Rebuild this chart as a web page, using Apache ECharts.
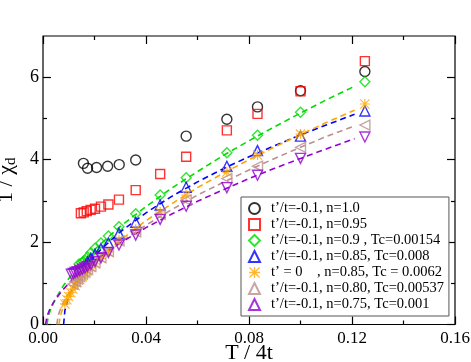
<!DOCTYPE html>
<html><head><meta charset="utf-8">
<script src="https://cdn.jsdelivr.net/npm/echarts@6/dist/echarts.min.js"></script>
<style>html,body{margin:0;padding:0;background:#fff}#c{width:471px;height:362px}</style>
</head><body><div id="c"></div>
<script>
// ---- data ----
const xTickLabels = ['0.00','0.04','0.08','0.12','0.16'];
const xMajorTicks = [0, 0.04, 0.08, 0.12, 0.16];
const xMinorTicks = [0.02, 0.06, 0.10, 0.14];
const yTickLabels = ['0','2','4','6'];
const yMajorTicks = [0, 2, 4, 6];
const yMinorTicks = [1, 3, 5];
const legendNames = [
  "t\u2019/t=-0.1, n=1.0",
  "t\u2019/t=-0.1, n=0.95",
  "t\u2019/t=-0.1, n=0.9 , Tc=0.00154",
  "t\u2019/t=-0.1, n=0.85, Tc=0.008",
  "t\u2019 = 0    , n=0.85, Tc = 0.0062",
  "t\u2019/t=-0.1, n=0.80, Tc=0.00537",
  "t\u2019/t=-0.1, n=0.75, Tc=0.001"
];
const n100_T = [0.0157,0.0173,0.0208,0.0251,0.0296,0.0360,0.0556,0.0714,0.0833,0.1000,0.1250];
const n100_Y = [3.91,3.79,3.81,3.84,3.88,3.99,4.57,4.98,5.28,5.67,6.14];
const n095_T = [0.0147,0.0158,0.0170,0.0185,0.0202,0.0225,0.0254,0.0295,0.0360,0.0455,0.0556,0.0714,0.0833,0.1000,0.1250];
const n095_Y = [2.70,2.72,2.75,2.78,2.81,2.86,2.91,3.03,3.26,3.65,4.07,4.71,5.11,5.66,6.39];
const n090_T = [0.0140,0.0150,0.0157,0.0163,0.0173,0.0186,0.0202,0.0225,0.0254,0.0295,0.0360,0.0455,0.0556,0.0714,0.0833,0.1000,0.1250];
const n090_Y = [1.47,1.50,1.53,1.56,1.64,1.74,1.85,1.98,2.15,2.37,2.69,3.14,3.56,4.17,4.59,5.15,5.89];
const n085_T = [0.0173,0.0186,0.0202,0.0225,0.0254,0.0295,0.0360,0.0455,0.0556,0.0714,0.0833,0.1000,0.1250];
const n085_Y = [1.52,1.60,1.70,1.84,1.98,2.21,2.48,2.90,3.33,3.84,4.22,4.57,5.18];
const t0_T = [0.0085,0.0093,0.0100,0.0108,0.0116,0.0125,0.0134,0.0143,0.0153,0.0163,0.0173,0.0186,0.0202,0.0225,0.0254,0.0295,0.0360,0.0455,0.0556,0.0714,0.0833,0.1000,0.1250];
const t0_Y = [0.50,0.60,0.68,0.77,0.86,0.94,1.02,1.09,1.16,1.23,1.30,1.38,1.47,1.60,1.76,2.05,2.31,2.73,3.14,3.70,4.11,4.62,5.35];
const n080_T = [0.0116,0.0125,0.0134,0.0143,0.0153,0.0163,0.0173,0.0186,0.0202,0.0225,0.0254,0.0295,0.0360,0.0455,0.0556,0.0714,0.0833,0.1000,0.1250];
const n080_Y = [0.98,1.04,1.10,1.16,1.22,1.28,1.34,1.41,1.50,1.62,1.77,2.03,2.25,2.67,3.02,3.54,3.84,4.30,4.84];
const n075_T = [0.0110,0.0118,0.0125,0.0133,0.0143,0.0153,0.0163,0.0173,0.0186,0.0202,0.0225,0.0254,0.0295,0.0360,0.0455,0.0556,0.0714,0.0833,0.1000,0.1250];
const n075_Y = [1.22,1.24,1.26,1.28,1.31,1.34,1.37,1.41,1.46,1.53,1.62,1.75,1.93,2.17,2.55,2.87,3.32,3.62,4.03,4.55];
// dashed fit curves
const fit090_T = [0.00154,0.002,0.003,0.005,0.008,0.012,0.016,0.02,0.03,0.04,0.05,0.06,0.07,0.08,0.09,0.1,0.11,0.121];
const fit090_Y = [0,0.18,0.38,0.64,0.95,1.28,1.56,1.82,2.38,2.86,3.31,3.71,4.10,4.46,4.80,5.13,5.45,5.78];
const fit085_T = [0.008,0.0085,0.01,0.013,0.017,0.022,0.03,0.04,0.05,0.06,0.07,0.08,0.09,0.1,0.11,0.121];
const fit085_Y = [0,0.34,0.68,1.07,1.44,1.79,2.25,2.71,3.11,3.46,3.78,4.07,4.34,4.60,4.84,5.10];
const fitT0_T = [0.0062,0.0067,0.0075,0.009,0.011,0.014,0.018,0.023,0.03,0.04,0.05,0.06,0.07,0.08,0.09,0.1,0.11,0.121];
const fitT0_Y = [0,0.21,0.36,0.57,0.79,1.05,1.35,1.66,2.04,2.52,2.93,3.32,3.67,4.00,4.31,4.61,4.90,5.20];
const fit080_T = [0.00537,0.0059,0.007,0.009,0.011,0.014,0.018,0.023,0.03,0.04,0.05,0.06,0.07,0.08,0.09,0.1,0.11,0.121];
const fit080_Y = [0,0.22,0.42,0.66,0.85,1.09,1.35,1.64,1.99,2.41,2.79,3.14,3.45,3.75,4.03,4.30,4.56,4.82];
const fit075_T = [0.001,0.0015,0.0025,0.004,0.007,0.01,0.014,0.018,0.023,0.03,0.04,0.05,0.06,0.07,0.08,0.09,0.1,0.11,0.121];
const fit075_Y = [0,0.19,0.35,0.53,0.79,1.00,1.24,1.45,1.68,1.98,2.35,2.68,2.99,3.27,3.54,3.79,4.03,4.26,4.51];

// ---- chart ----
const zip = (a, b) => a.map((v, i) => [v, b[i]]);
const SERIF = '"Liberation Serif","DejaVu Serif",serif';
const C = {black:'#000000', red:'#ff0000', green:'#00dd00', blue:'#0000ff', orange:'#ffa500', brown:'#bc8f8f', purple:'#9400d3'};
const STAR = 'path://M0,4.4L10,4.4L10,5.6L0,5.6Z M4.4,0L5.6,0L5.6,10L4.4,10Z M0.8,0L10,9.2L9.2,10L0,0.8Z M9.2,0L10,0.8L0.8,10L0,9.2Z';

function scat(name, T, Y, symbol, color, size, rot, filled) {
  return {
    type: 'scatter', name, data: zip(T, Y), symbol, symbolSize: size, symbolRotate: rot || 0,
    symbolKeepAspect: true, z: 3,
    itemStyle: filled ? {color: color, borderWidth: 0} : {color: 'rgba(255,255,255,0)', borderColor: color, borderWidth: 1.4},
    emphasis: {disabled: true}
  };
}
function fit(name, T, Y, color) {
  return {
    type: 'line', name, data: zip(T, Y), showSymbol: false, symbol: 'none', z: 2,
    lineStyle: {color, width: 1.6, type: [6, 4]}, emphasis: {disabled: true}, silent: true
  };
}

function axis(min, max, interval, pos, ticks, len) {
  return {
    type: 'value', min, max, interval, position: pos, offset: 0,
    axisLine: {show: false, onZero: false},
    axisTick: {show: true, inside: true, length: len, customValues: ticks, lineStyle: {color: '#000', width: 1.2}},
    splitLine: {show: false}, axisLabel: {show: false}
  };
}

const xa0 = axis(0, 0.16, 0.04, 'bottom', xMajorTicks, 8);
xa0.axisLabel = {show: true, margin: 6, color: '#000', fontFamily: SERIF, fontSize: 17,
  customValues: xMajorTicks, formatter: v => xTickLabels[xMajorTicks.findIndex(t => Math.abs(t - v) < 1e-9)] || ''};
xa0.name = 'T / 4t'; xa0.nameLocation = 'middle'; xa0.nameGap = 18; xa0.nameMoveOverlap = false;
xa0.nameTextStyle = {fontFamily: SERIF, fontSize: 22, color: '#000'};
const xa1 = axis(0, 0.16, 0.02, 'bottom', xMinorTicks, 4);
const xa2 = axis(0, 0.16, 0.04, 'top', xMajorTicks, 8);
const xa3 = axis(0, 0.16, 0.02, 'top', xMinorTicks, 4);

const ya0 = axis(0, 7, 1, 'left', yMajorTicks, 8);
ya0.axisLabel = {show: true, margin: 4, color: '#000', fontFamily: SERIF, fontSize: 18,
  customValues: yMajorTicks, formatter: v => yTickLabels[yMajorTicks.indexOf(v)] || ''};
ya0.name = '1 / \u03c7{d|d}'; ya0.nameLocation = 'middle'; ya0.nameGap = 24; ya0.nameRotate = 90; ya0.nameMoveOverlap = false;
ya0.nameTextStyle = {fontFamily: SERIF, fontSize: 22, color: '#000',
  rich: {d: {fontFamily: SERIF, fontSize: 15, color: '#000', padding: [10, 0, 0, 0]}}};
const ya1 = axis(0, 7, 1, 'left', yMinorTicks, 4);
const ya2 = axis(0, 7, 1, 'right', yMajorTicks, 8);
const ya3 = axis(0, 7, 1, 'right', yMinorTicks, 4);

const option = {
  animation: false,
  backgroundColor: '#fff',
  grid: {left: 43, right: 16, top: 36, bottom: 37.5, outerBoundsMode: 'none',
         show: true, borderColor: '#000', borderWidth: 1.2, backgroundColor: 'rgba(0,0,0,0)'},
  xAxis: [xa0, xa1, xa2, xa3],
  yAxis: [ya0, ya1, ya2, ya3],
  legend: {
    data: legendNames, orient: 'vertical', left: 241, top: 197,
    padding: [4, 5, 4, 7], itemGap: 1, itemWidth: 11, itemHeight: 11,
    borderColor: '#555', borderWidth: 1, backgroundColor: '#fff', borderRadius: 0,
    textStyle: {fontFamily: SERIF, fontSize: 14.5, color: '#000', lineHeight: 14, padding: [0, 0, 0, 6]},
    selectedMode: false
  },
  series: [
    fit('fit n=0.9', fit090_T, fit090_Y, C.green),
    fit('fit n=0.85', fit085_T, fit085_Y, C.blue),
    fit('fit t0', fitT0_T, fitT0_Y, C.orange),
    fit('fit n=0.80', fit080_T, fit080_Y, C.brown),
    fit('fit n=0.75', fit075_T, fit075_Y, C.purple),
    scat(legendNames[0], n100_T, n100_Y, 'circle', C.black, 10),
    scat(legendNames[1], n095_T, n095_Y, 'rect', C.red, 9),
    scat(legendNames[2], n090_T, n090_Y, 'diamond', C.green, 10),
    scat(legendNames[3], n085_T, n085_Y, 'triangle', C.blue, 10),
    scat(legendNames[4], t0_T, t0_Y, STAR, C.orange, 10, 0, true),
    scat(legendNames[5], n080_T, n080_Y, 'triangle', C.brown, 10, 90),
    scat(legendNames[6], n075_T, n075_Y, 'triangle', C.purple, 10, 180)
  ]
};
const chart = echarts.init(document.getElementById('c'), null, {renderer: 'canvas'});
chart.setOption(option);
</script></body></html>
